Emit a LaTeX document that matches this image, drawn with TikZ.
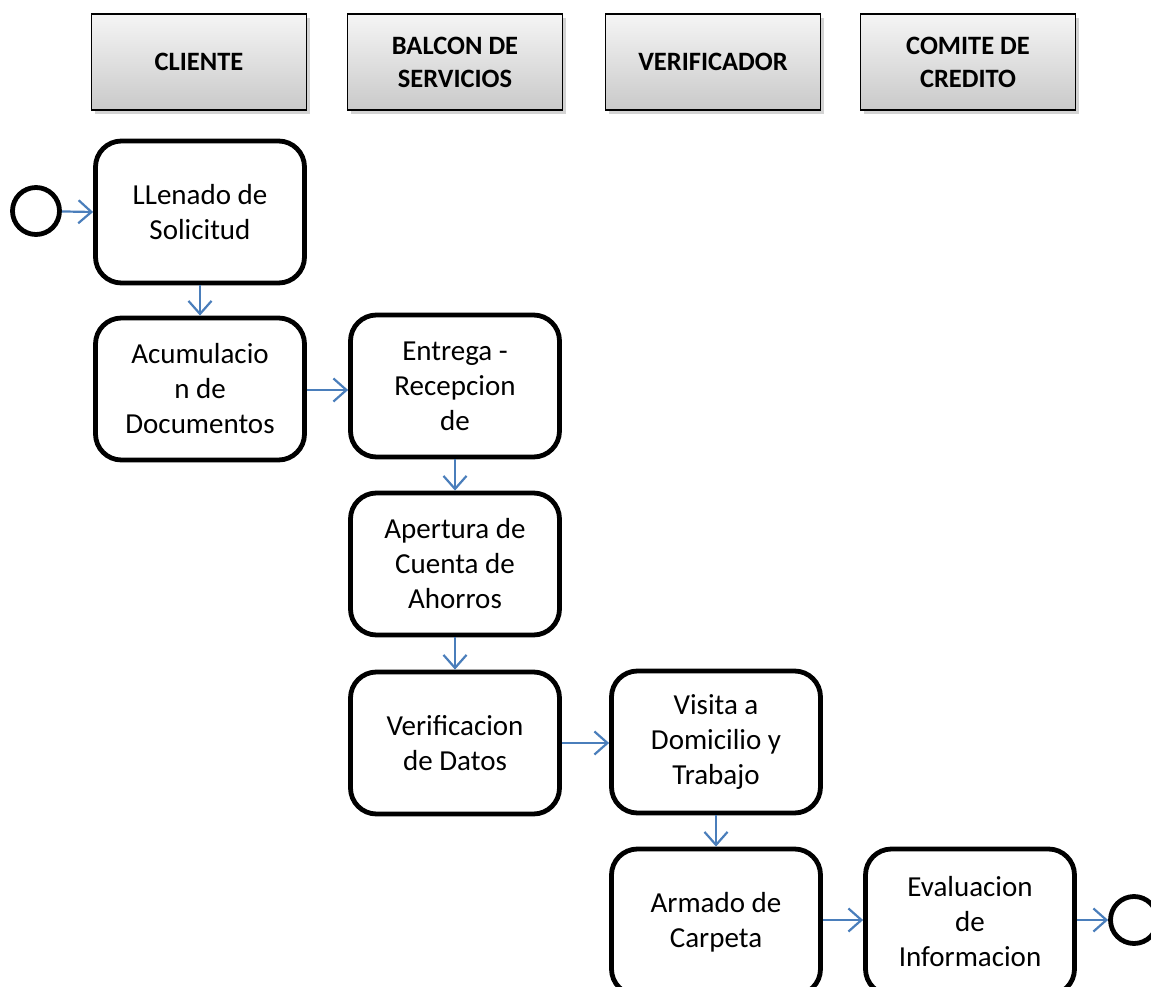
\documentclass[tikz,border=0pt]{standalone}
\usepackage{fontspec}
\setmainfont{Carlito}
\usetikzlibrary{arrows.meta,shadows}
\definecolor{arrowblue}{HTML}{4A7EBB}
\tikzset{
  task/.style={draw, line width=4.8pt, rounded corners=26pt, align=center,
    minimum width=209pt, minimum height=142pt, inner sep=0pt,
    font=\fontsize{29}{35}\selectfont},
  header/.style={draw, line width=1.6pt, top color=gray!8, bottom color=gray!42,
    drop shadow={shadow xshift=3pt, shadow yshift=-4pt, opacity=0.35},
    minimum width=215pt, minimum height=96pt, inner sep=0pt, align=center,
    font=\bfseries\fontsize{26.5}{33}\selectfont},
  event/.style={draw, circle, line width=4.8pt, minimum size=47pt, inner sep=0pt},
  flow/.style={draw=arrowblue, line width=2.2pt,
    -{Straight Barb[length=13pt, width=23pt, line width=2.2pt]}},
}
\begin{document}
\begin{tikzpicture}[x=1pt,y=-1pt]
\useasboundingbox (0,0) rectangle (1151,987);
\clip (0,0) rectangle (1151,987);
% headers
\node[header] (h1) at (199,62) {CLIENTE};
\node[header] (h2) at (455,62) {BALCON DE\\SERVICIOS};
\node[header] (h3) at (713,62) {VERIFICADOR};
\node[header] (h4) at (968,62) {COMITE DE\\CREDITO};
% events
\node[event] (start) at (36,211) {};
\node[event] (end) at (1134,920) {};
% tasks
\node[task] (t1) at (200,212) {LLenado de\\Solicitud};
\node[task] (t2) at (200,389) {Acumulacio\\n de\\Documentos};
\node[task] (t3) at (455,386) {Entrega -\\Recepcion\\de};
\node[task] (t4) at (455,564) {Apertura de\\Cuenta de\\Ahorros};
\node[task] (t5) at (455,743) {Verificacion\\de Datos};
\node[task] (t6) at (716,742) {Visita a\\Domicilio y\\Trabajo};
\node[task, minimum height=146pt] (t7) at (716,922) {Armado de\\Carpeta};
\node[task, minimum height=146pt] (t8) at (970,922) {Evaluacion\\de\\Informacion};
% flows
\draw[flow] (start) -- (t1.west);
\draw[flow] (t1.south) -- (t2.north);
\draw[flow] (t2.east) ++(0,1) coordinate (a2) (a2) -- (t3.west |- a2);
\draw[flow] (t3.south) -- (t4.north);
\draw[flow] (t4.south) -- (t5.north);
\draw[flow] (t5.east) -- (t6.west |- t5.east);
\draw[flow] (t6.south) -- (t7.north);
\draw[flow] (t7.east |- 0,920) coordinate (a7) (a7) -- (t8.west |- a7);
\draw[flow] (t8.east |- 0,920) coordinate (a8) (a8) -- (end.west);
\end{tikzpicture}
\end{document}
